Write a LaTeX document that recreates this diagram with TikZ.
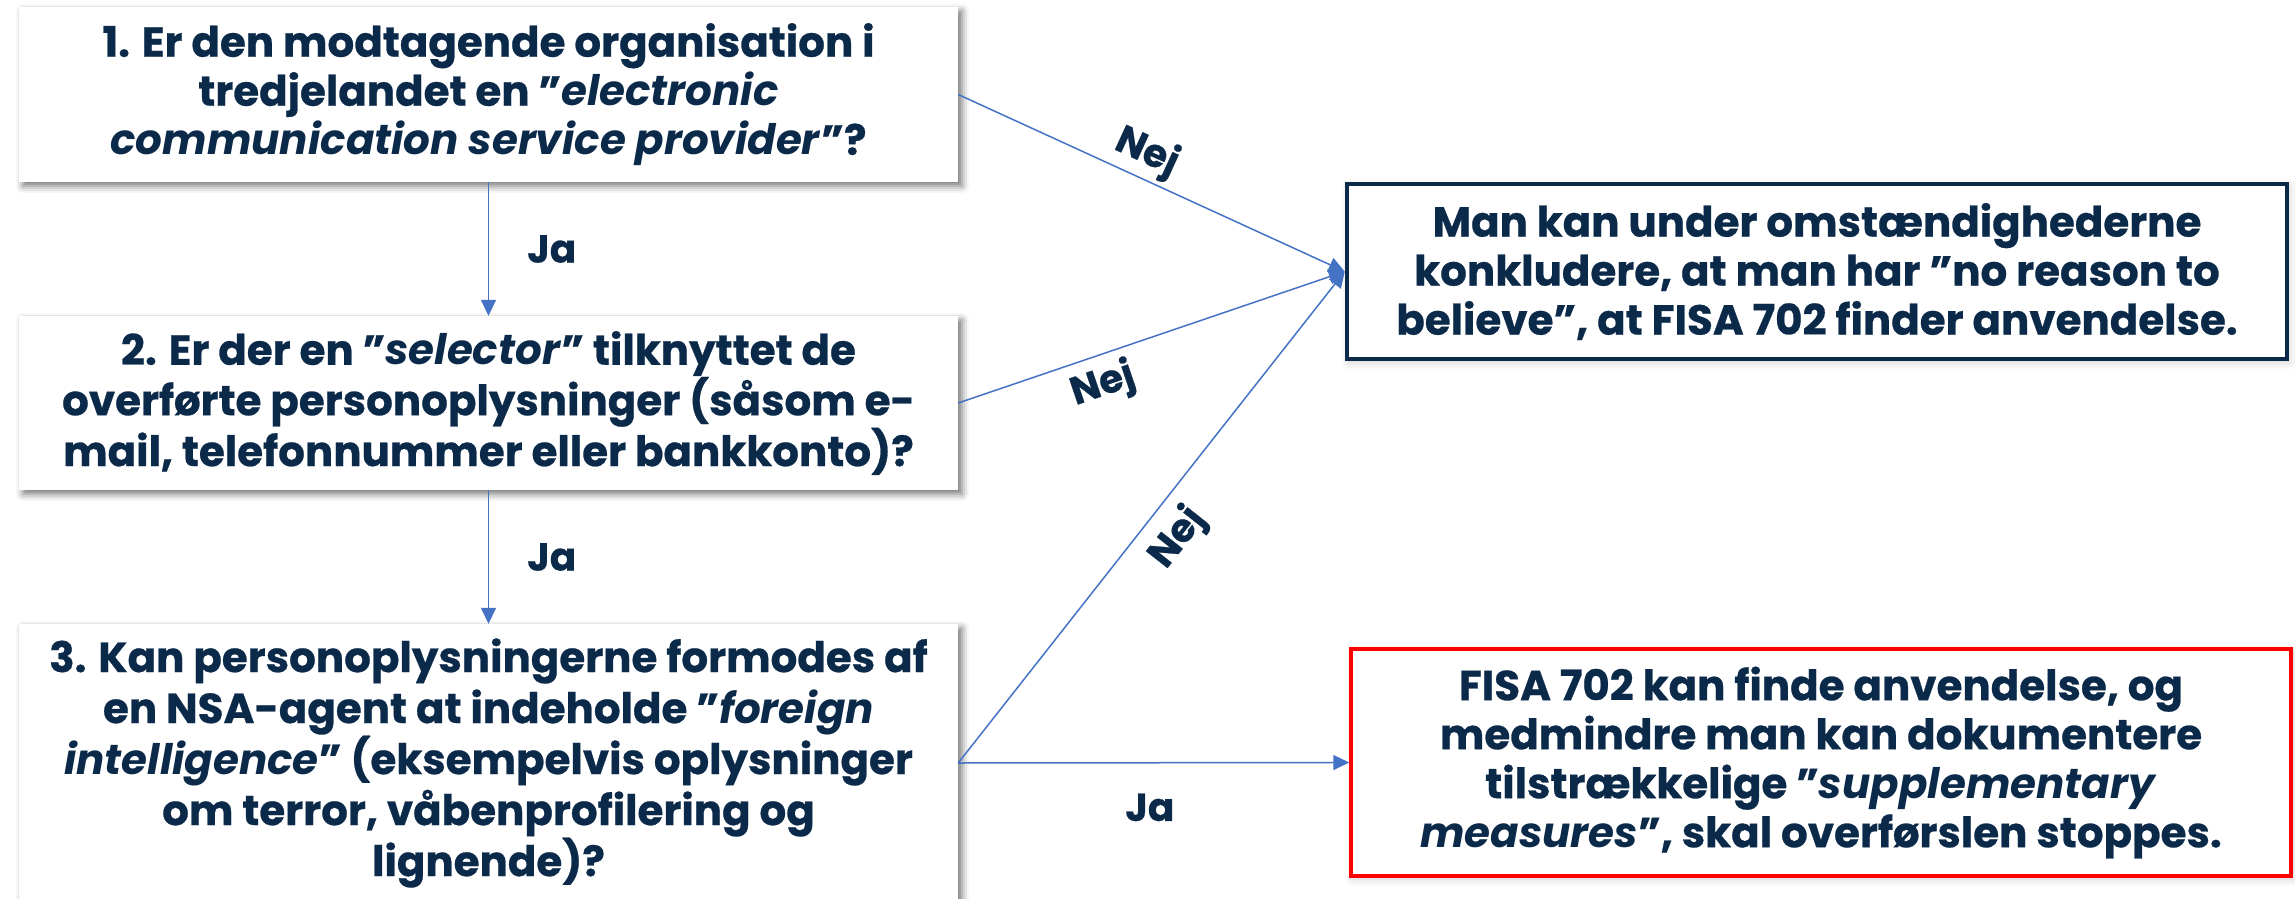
\documentclass[tikz,border=0pt]{standalone}
\usepackage{fontspec}
\setmainfont{Poppins}[BoldFeatures={FakeBold=0.6}]
\usetikzlibrary{arrows.meta,shadows.blur}
\definecolor{navy}{HTML}{0B2A4A}
\definecolor{lineblue}{HTML}{4472C4}
\definecolor{redb}{HTML}{FF0000}
\begin{document}
\begin{tikzpicture}[x=1pt,y=-1pt,
  txt/.style={font=\bfseries\fontsize{42}{49}\selectfont, text=navy, align=center},
  qbox/.style={txt, fill=white, minimum width=939pt, inner sep=0pt,
    blur shadow={shadow xshift=4pt, shadow yshift=-4pt, shadow blur radius=7pt, shadow opacity=55}},
  abox/.style={txt, fill=white, minimum width=940pt, inner sep=0pt,
    blur shadow={shadow xshift=2pt, shadow yshift=-3pt, shadow blur radius=8pt, shadow opacity=20}},
  lab/.style={font=\bfseries\fontsize{39}{44}\selectfont, text=navy, inner sep=2pt},
  conn/.style={draw=lineblue, line width=1.5pt, -{Triangle[length=16pt,width=15pt]}}
]
\useasboundingbox (0,0) rectangle (2295,899);

\node[qbox, minimum height=175pt] (b1) at (488.5,94.5)
  {1. Er den modtagende organisation i\\
   tredjelandet en ”\textit{electronic}\\
   \textit{communication service provider}”?};
\node[qbox, minimum height=174pt] (b2) at (488.5,403)
  {2. Er der en ”\textit{selector}” tilknyttet de\\
   overførte personoplysninger (såsom e-\\
   mail, telefonnummer eller bankkonto)?};
\node[qbox, minimum height=278pt, font=\bfseries\fontsize{42}{51}\selectfont] (b3) at (488.5,763)
  {3. Kan personoplysningerne formodes af\\
   en NSA-agent at indeholde ”\textit{foreign}\\
   \textit{intelligence}” (eksempelvis oplysninger\\
   om terror, våbenprofilering og\\
   lignende)?};
\node[abox, draw=navy, line width=4.5pt, minimum height=175pt] (r1) at (1817,271.5)
  {Man kan under omstændighederne\\
   konkludere, at man har ”no reason to\\
   believe”, at FISA 702 finder anvendelse.};
\node[abox, draw=redb, line width=3.5pt, minimum height=227pt] (r2) at (1821,762.5)
  {FISA 702 kan finde anvendelse, og\\
   medmindre man kan dokumentere\\
   tilstrækkelige ”\textit{supplementary}\\
   \textit{measures}”, skal overførslen stoppes.};

\draw[conn] (b1.south) -- (b2.north) node[lab, pos=.5, right=36pt] {Ja};
\draw[conn] (b2.south) -- (b3.north) node[lab, pos=.5, right=36pt] {Ja};
\draw[conn] (b1.east) -- (r1.west) node[lab, pos=.46, sloped, above=2pt] {Nej};
\draw[conn] (b2.east) -- (r1.west) node[lab, pos=.35, sloped, below=6pt] {Nej};
\draw[conn] (b3.east) -- (r1.west) node[lab, pos=.50, sloped, below=10pt] {Nej};
\draw[conn] (b3.east) -- (r2.west) node[lab, pos=.49, below=28pt] {Ja};
\end{tikzpicture}
\end{document}
